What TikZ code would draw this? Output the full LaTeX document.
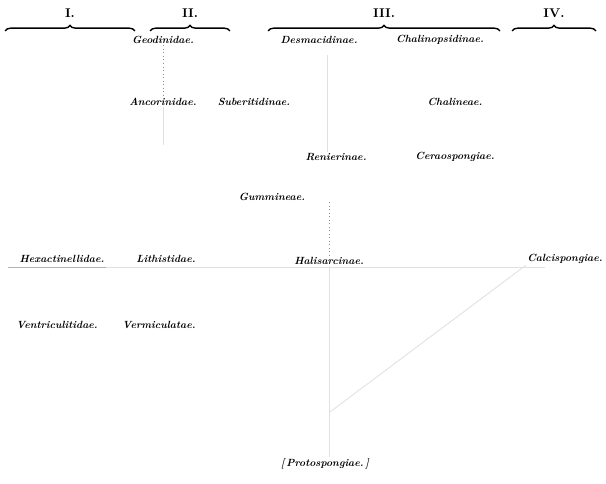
\documentclass[tikz,border=0pt]{standalone}
\usetikzlibrary{decorations.pathreplacing}
\begin{document}
\begin{tikzpicture}[x=0.025cm,y=-0.025cm,
  taxon/.style={font=\fontsize{7.4}{8}\selectfont\bfseries\itshape,inner sep=1pt},
  group/.style={font=\fontsize{9}{10}\selectfont\bfseries},
  brc/.style={decorate,decoration={brace,amplitude=4pt},line width=1pt},
  faint/.style={color=black!12,line width=0.6pt},
  dots/.style={color=black!45,dotted,line width=0.5pt}]

\useasboundingbox (0,0) rectangle (606,484);

% the four orders with their braces
\foreach \n/\l/\a/\b in {one/I./5/135, two/II./150/230, three/III./268/500, four/IV./512/596}{
	\draw[brc] (\a,31)--(\b,31);
	\node[group] (\n) at ({(\a+\b)/2},13) {\l};
}

% families
\node[taxon] (geod) at (163,40) {Geodinidae.};
\node[taxon] (desm) at (319,40) {Desmacidinae.};
\node[taxon] (chalp) at (440,40) {Chalinopsidinae.};
\node[taxon] (anco) at (163,102) {Ancorinidae.};
\node[taxon] (suber) at (254,102) {Suberitidinae.};
\node[taxon] (chal) at (455,102) {Chalineae.};
\node[taxon] (reni) at (336,157) {Renierinae.};
\node[taxon] (cera) at (455,157) {Ceraospongiae.};
\node[taxon] (gumm) at (272,197) {Gummineae.};
\node[taxon] (hexa) at (62,259) {Hexactinellidae.};
\node[taxon] (lith) at (166,259) {Lithistidae.};
\node[taxon] (hali) at (329,261) {Halisarcinae.};
\node[taxon] (calc) at (565,259) {Calcispongiae.};
\node[taxon] (vent) at (57,325) {Ventriculitidae.};
\node[taxon] (verm) at (159,325) {Vermiculatae.};
\node[taxon] (proto) at (325,464) {[\,Protospongiae.\,]};

% faded stems
\coordinate (west) at (8,267);
\coordinate (east) at (545,267);
\coordinate (fork) at (330,412);
\coordinate (top) at (327,55);
\draw[faint] (west)--(east);
\draw[color=black!30,line width=0.6pt] (west)--(hexa.south east |- west);
\draw[faint] (proto.north -| hali)--(hali.south);
\draw[faint] (top)--(top |- reni.north);
\draw[dots] (hali.north)--(hali.north |- gumm.south);
\draw[faint] (fork)--(calc.south west);
\draw[dots] (geod.south)--(anco.north);
\draw[faint] (anco.south)--(163,145);

\end{tikzpicture}
\end{document}
